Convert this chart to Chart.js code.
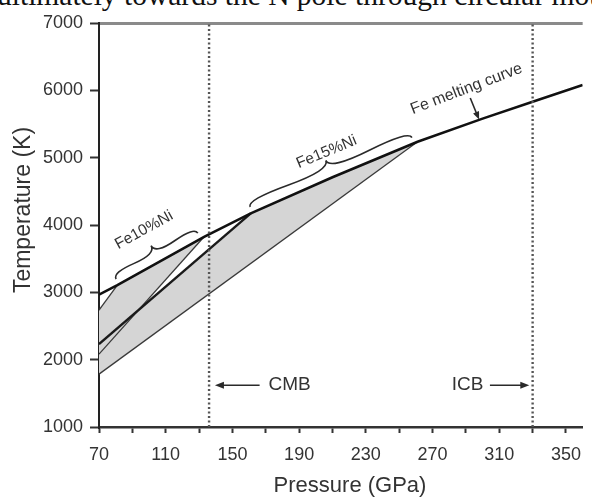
<!DOCTYPE html>
<html><head><meta charset="utf-8">
<script src="https://cdn.jsdelivr.net/npm/chart.js@4/dist/chart.umd.min.js"></script>
<style>
html,body{margin:0;padding:0;background:#fff;overflow:hidden}
#wrap{position:relative;width:592px;height:497px;overflow:hidden}
#top{position:absolute;left:-3px;top:-20px;font-family:"Liberation Serif","Times New Roman",serif;font-size:29.5px;line-height:30px;white-space:nowrap;color:#111}
canvas{position:absolute;left:0;top:0}
</style></head><body>
<div id="wrap"><div id="top">ultimately towards the N pole through circular mot</div><canvas id="c" width="592" height="497"></canvas></div>
<script>
// ---- data ----
const meltP = [70, 81, 133, 161, 210, 261, 300, 330, 360];
const meltT = [2965, 3107, 3825, 4172, 4710, 5236, 5580, 5831, 6079];
const fe10P = [70, 81, 133, 70];
const fe10T = [2735, 3107, 3825, 2082];
const fe15P = [70, 161, 210, 261, 70];
const fe15T = [2230, 4172, 4710, 5236, 1785];
const lineAP = [70, 81];   const lineAT = [2735, 3107];
const lineBP = [70, 161];  const lineBT = [2230, 4172];
const lineCP = [70, 133];  const lineCT = [2082, 3825];
const lineDP = [70, 261];  const lineDT = [1785, 5236];
const cmbP = 136, icbP = 330;
const boundT = [1000, 7000];
const xTickValues = [70,90,110,130,150,170,190,210,230,250,270,290,310,330,350];
const xLabelValues = [70,110,150,190,230,270,310,350];
const yTickValues = [1000,2000,3000,4000,5000,6000,7000];

const pts = (P,T) => P.map((p,i)=>({x:p,y:T[i]}));
const closed = (P,T) => { const a = pts(P,T); a.push({...a[0]}); return a; };

const FONT = '"Liberation Sans", Arial, Helvetica, sans-serif';
const ink = '#2a2a2a';

function rotText(ctx, txt, x, y, deg, size){
  ctx.save(); ctx.translate(x,y); ctx.rotate(deg*Math.PI/180);
  ctx.font = size+'px '+FONT; ctx.textAlign='center'; ctx.textBaseline='middle';
  ctx.fillText(txt,0,0); ctx.restore();
}
function arrow(ctx, x1,y1,x2,y2, head){
  const a = Math.atan2(y2-y1,x2-x1);
  ctx.beginPath(); ctx.moveTo(x1,y1); ctx.lineTo(x2-Math.cos(a)*head*0.8,y2-Math.sin(a)*head*0.8); ctx.stroke();
  ctx.beginPath(); ctx.moveTo(x2,y2);
  ctx.lineTo(x2-head*Math.cos(a)+head*0.4*Math.sin(a), y2-head*Math.sin(a)-head*0.4*Math.cos(a));
  ctx.lineTo(x2-head*Math.cos(a)-head*0.4*Math.sin(a), y2-head*Math.sin(a)+head*0.4*Math.cos(a));
  ctx.closePath(); ctx.fill();
}
function brace(ctx, ax,ay,bx,by, off, w, q){
  const len = Math.hypot(bx-ax,by-ay); const tx=(bx-ax)/len, ty=(by-ay)/len;
  let nx = ty, ny = -tx; if (ny>0){nx=-nx;ny=-ny;}
  ax+=nx*off; ay+=ny*off; bx+=nx*off; by+=ny*off;
  const tip=[ax+tx*len*0.5+nx*w, ay+ty*len*0.5+ny*w];
  const half=(sx,sy,f)=>{
    const c1=[sx+nx*q*w, sy+ny*q*w];
    const m=[ax+tx*len*f+nx*(1-q)*w, ay+ty*len*f+ny*(1-q)*w];
    ctx.moveTo(sx,sy); ctx.quadraticCurveTo(c1[0],c1[1],m[0],m[1]);
    ctx.quadraticCurveTo(2*m[0]-c1[0],2*m[1]-c1[1],tip[0],tip[1]);
  };
  ctx.beginPath(); half(ax,ay,0.25); half(bx,by,0.75); ctx.stroke();
}

const annot = {
  id:'annot',
  afterDatasetsDraw(chart){
    const {ctx, scales:{x,y}} = chart;
    const px=v=>x.getPixelForValue(v), py=v=>y.getPixelForValue(v);
    ctx.save();
    ctx.fillStyle=ink; ctx.strokeStyle=ink; ctx.lineWidth=1.6;
    // braces
    brace(ctx, px(82),py(3120), px(131),py(3800), 6, 12, 0.6);
    brace(ctx, px(162),py(4185), px(259),py(5215), 6, 13, 0.6);
    ctx.fillStyle='#333';
    rotText(ctx,'Fe10%Ni', px(97), py(3924), -29, 15.5);
    rotText(ctx,'Fe15%Ni', px(206.5), py(5083), -22.6, 15.5);
    rotText(ctx,'Fe melting curve', px(290.3), py(6019), -21, 16);
    ctx.lineWidth=1.6; ctx.fillStyle=ink;
    arrow(ctx, px(292.6), py(5886), px(297.9), py(5565), 8);
    // CMB / ICB
    ctx.lineWidth=1.6;
    arrow(ctx, px(166.3), py(1620), px(139.5), py(1620), 9);
    arrow(ctx, px(304.4), py(1620), px(328), py(1620), 9);
    ctx.fillStyle='#333'; ctx.font='19px '+FONT; ctx.textBaseline='middle';
    ctx.textAlign='left'; ctx.fillText('CMB', px(171.6), py(1620));
    ctx.textAlign='right'; ctx.fillText('ICB', px(300.5), py(1620));
    // axis titles
    ctx.font='22px '+FONT; ctx.textAlign='center';
    ctx.fillText('Pressure (GPa)', 350, 486);
    ctx.font='23px '+FONT;
    ctx.save(); ctx.translate(24,210); ctx.rotate(-Math.PI/2); ctx.fillText('Temperature (K)',0,0); ctx.restore();
    ctx.restore();
  }
};

const thin = '#3a3a3a';
new Chart(document.getElementById('c'), {
  type:'line',
  data:{datasets:[
    {data:closed(fe10P,fe10T), fill:'shape', backgroundColor:'#d5d5d5', borderWidth:0, pointRadius:0, order:10},
    {data:closed(fe15P,fe15T), fill:'shape', backgroundColor:'#d5d5d5', borderWidth:0, pointRadius:0, order:10},
    {data:pts(lineDP,lineDT), borderColor:thin, borderWidth:1.3, pointRadius:0, order:5},
    {data:pts(lineCP,lineCT), borderColor:thin, borderWidth:1.3, pointRadius:0, order:5},
    {data:pts(lineAP,lineAT), borderColor:thin, borderWidth:1.3, pointRadius:0, order:5},
    {data:pts(lineBP,lineBT), borderColor:'#1a1a1a', borderWidth:2.4, pointRadius:0, order:4},
    {data:pts(meltP,meltT), borderColor:'#111', borderWidth:2.6, pointRadius:0, order:3},
    {data:pts([cmbP,cmbP],boundT), borderColor:'#555', borderWidth:2.4, borderDash:[2,2.5], pointRadius:0, order:2},
    {data:pts([icbP,icbP],boundT), borderColor:'#555', borderWidth:2.4, borderDash:[2,2.5], pointRadius:0, order:2}
  ]},
  options:{
    responsive:false, animation:false,
    layout:{padding:{top:23,right:0,left:0,bottom:0}},
    plugins:{legend:{display:false}, tooltip:{enabled:false}},
    elements:{line:{tension:0}},
    scales:{
      x:{type:'linear', min:70, max:360,
        afterBuildTicks:s=>{ s.ticks = xTickValues.map(v=>({value:v})); },
        afterFit:s=>{ s.height=70; },
        ticks:{autoSkip:false, maxRotation:0, padding:11, color:'#333', font:{family:FONT,size:18},
          callback:v=> xLabelValues.includes(v) ? String(v) : ''},
        grid:{drawOnChartArea:false, tickLength:6, tickColor:'#333', tickWidth:2},
        border:{display:true, color:'#333', width:2.5}
      },
      y:{type:'linear', min:1000, max:7000,
        afterBuildTicks:s=>{ s.ticks = yTickValues.map(v=>({value:v})); },
        afterFit:s=>{ s.width=99; },
        ticks:{padding:7, color:'#333', font:{family:FONT,size:18}, callback:v=>String(v)},
        grid:{drawOnChartArea:true, tickLength:9, tickColor:'#333', tickWidth:2,
          color:c=> c.tick && c.tick.value===7000 ? '#8a8a8a' : 'rgba(0,0,0,0)', lineWidth:3},
        border:{display:true, color:'#222', width:2}
      }
    }
  },
  plugins:[annot]
});
</script>
</body></html>
